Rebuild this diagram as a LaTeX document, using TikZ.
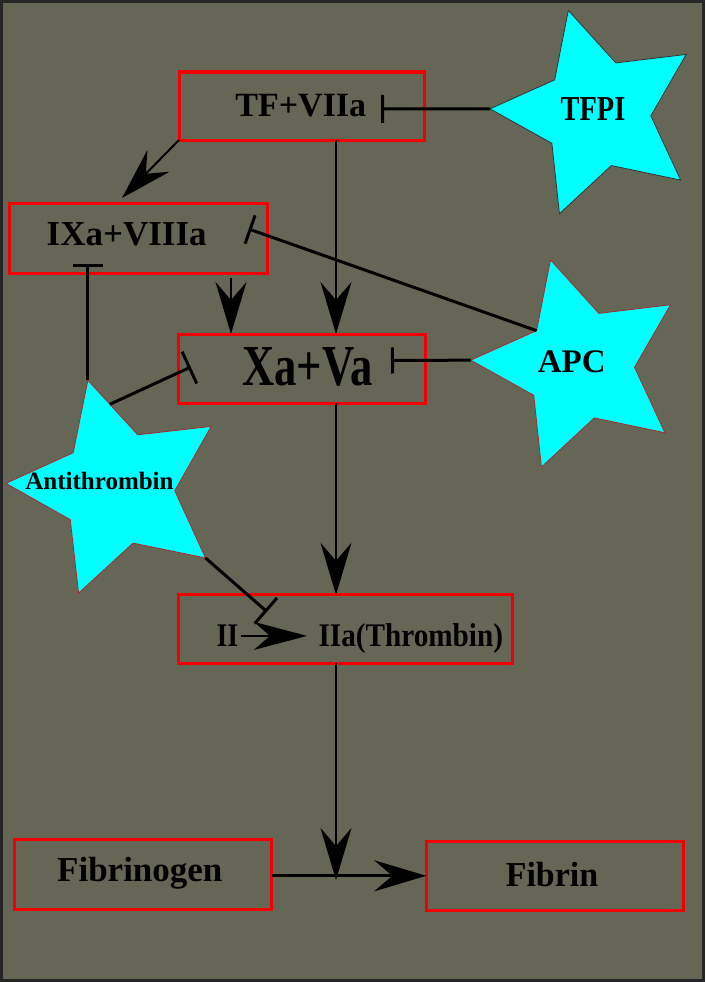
\documentclass[tikz,border=0pt]{standalone}
\usepackage{fontspec}
\setmainfont{Liberation Serif}
\usepackage{graphicx}
\usetikzlibrary{arrows.meta,calc}

\definecolor{bgolive}{RGB}{102,102,87}
\definecolor{boxred}{RGB}{240,0,0}
\definecolor{starcyan}{RGB}{0,255,255}
\definecolor{staredge}{RGB}{170,40,40}

% bold label text: size, horizontal squeeze, text
\newcommand\lbltext[3]{\fontsize{#1}{#1}\selectfont\bfseries\scalebox{#2}[1]{#3}}

% five-pointed star pointing left: name, centre x, centre y, outer radius, inner radius, edge colour
\newcommand\inhibstar[6]{%
  \begin{scope}[shift={(#2,#3)},rotate=-2.5]
    \path[starbody,draw=#6] (180:#4) -- (144:#5) -- (108:#4) -- (72:#5) -- (36:#4)
      -- (0:#5) -- (-36:#4) -- (-72:#5) -- (-108:#4) -- (-144:#5) -- cycle;
    \coordinate (#1-tip) at (180:#4);
    \coordinate (#1-top) at (-108:#4);
    \coordinate (#1-inul) at (-144:#5);
    \coordinate (#1-inur) at (-72:#5);
    \coordinate (#1-lr) at (36:#4);
  \end{scope}}

\begin{document}
\begin{tikzpicture}[x=1pt,y=-1pt,
  box/.style={draw=boxred,line width=3pt,rectangle,inner sep=0pt,outer sep=0pt},
  lbl/.style={inner sep=0pt,outer sep=0pt,anchor=base,text=black},
  arr/.style={line width=2pt,-{Stealth[length=52pt,width=31pt,inset=18pt]}},
  inh/.style={line width=3pt,-{Bar[width=#1]}},
  starbody/.style={fill=starcyan,line width=0.8pt,line join=miter}]

\useasboundingbox (0,0) rectangle (705,982);
\fill[bgolive] (0,0) rectangle (705,982);
\draw[line width=3pt,black!85] (1.5,1.5) rectangle (703.5,980.5);

% reaction boxes
\node[box,minimum width=245pt,minimum height=68pt] (tf) at (301.5,106) {};
\node[box,minimum width=258pt,minimum height=69.5pt] (ix) at (138,238.7) {};
\node[box,minimum width=247pt,minimum height=69pt] (xa) at (301.5,368.5) {};
\node[box,minimum width=334pt,minimum height=68.5pt] (iiabox) at (345,629) {};
\node[box,minimum width=257pt,minimum height=70pt] (fibrinogen) at (143,874) {};
\node[box,minimum width=257.5pt,minimum height=68.5pt] (fibrin) at (555,875.8) {};

% box labels
\node[lbl] (tf-text) at (300.8,116.7) {\lbltext{34}{1}{TF+VIIa}};
\node[lbl] (ix-text) at (126.7,245) {\lbltext{35}{1}{IXa+VIIIa}};
\node[lbl] (xa-text) at (307.5,385) {\lbltext{58}{0.77}{Xa+Va}};
\node[lbl] (ii) at (227.5,646.7) {\lbltext{33}{0.85}{II}};
\node[lbl] (iia) at (410.8,646.7) {\lbltext{33}{0.885}{IIa(Thrombin)}};
\node[lbl] (fibrinogen-text) at (139.8,881.7) {\lbltext{35}{1}{Fibrinogen}};
\node[lbl] (fibrin-text) at (552,886.7) {\lbltext{35}{0.97}{Fibrin}};

% inhibitor stars
\inhibstar{tfpi}{596.9}{113.5}{107}{54}{black!80}
\inhibstar{apc}{579.6}{364.9}{109}{55}{staredge}
\inhibstar{at}{117.8}{488.2}{112}{57}{staredge}
\node[lbl] (tfpi) at (593,120) {\lbltext{35}{0.81}{TFPI}};
\node[lbl] (apc) at (571.7,372.7) {\lbltext{33}{1}{APC}};
\node[lbl] (antithrombin) at (99.5,489.3) {\lbltext{25}{1}{Antithrombin}};

% reference points
\coordinate (axis) at (336,0);
\coordinate (ixxa) at (231,0);
\coordinate (ix-in) at (122,198);
\coordinate (join) at (336,880);
\coordinate (at-edge) at ($(at-top)!0.44!(at-inur)$);
\coordinate (tf-stop) at (381,108.8);
\coordinate (xa-stop-r) at (391,360.5);
\coordinate (ix-stop-r) at (248.7,229);
\coordinate (ix-stop-b) at (88,264);
\coordinate (xa-stop-l) at (190.8,367);
\coordinate (iia-stop) at (267,611.7);

% activation cascade
\draw[arr] (tf.south west) -- (ix-in);
\draw[arr,shorten <=4.5pt] (ix.south -| ixxa) -- (xa.north -| ixxa);
\draw[arr] (tf.south -| axis) -- (xa.north -| axis);
\draw[arr] (xa.south -| axis) -- (iiabox.north -| axis);
\draw[arr] (iiabox.south -| axis) -- (join);
\draw[arr,line width=3pt] (fibrinogen.east |- fibrin.west) -- (fibrin.west);
\draw[line width=2pt,-{Stealth[length=53pt,width=28pt,inset=16pt]},shorten <=3pt,shorten >=11.6pt]
  (ii.east) -- (ii.east -| iia.west);

% inhibition
\draw[inh=28pt] (tfpi-tip) -- (tf-stop);
\draw[inh=26pt] (apc-tip) -- (xa-stop-r);
\draw[inh=30pt] (apc-inul) -- (ix-stop-r);
\draw[inh=30pt] (at-top) -- (at-top |- ix-stop-b);
\draw[inh=35pt] (at-edge) -- (xa-stop-l);
\draw[inh=34pt] (at-lr) -- (iia-stop);
\end{tikzpicture}
\end{document}
